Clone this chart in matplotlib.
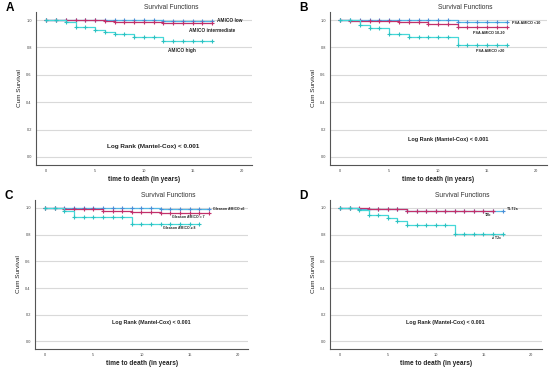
import matplotlib
matplotlib.use('Agg')
import matplotlib.pyplot as plt
import numpy as np

plt.rcParams['font.family'] = ['Liberation Sans', 'DejaVu Sans']

# survival curves: (step times, survival after each step, censor times)
# panel A
a_low_t = [0, 12];          a_low_s = [1.0, 0.995]
a_int_t = [0, 6, 7, 12];    a_int_s = [1.0, 0.99, 0.983, 0.976]
a_high_t = [0, 2, 3, 5, 6, 7, 9, 12]
a_high_s = [1.0, 0.983, 0.951, 0.924, 0.912, 0.898, 0.878, 0.844]
a_cens = list(range(0, 18))

# panel B
b_low_t = [0, 1, 12];              b_low_s = [1.0, 0.997, 0.988]
b_mid_t = [0, 1, 3, 6, 9, 12];     b_mid_s = [1.0, 0.996, 0.99, 0.983, 0.972, 0.95]
b_high_t = [0, 2, 3, 5, 7, 12];    b_high_s = [1.0, 0.965, 0.945, 0.90, 0.875, 0.82]

# panel C
c_low_t = [0, 12];                 c_low_s = [1.0, 0.99]
c_mid_t = [0, 2, 5, 6, 7, 9, 12]
c_mid_s = [1.0, 0.996, 0.99, 0.98, 0.975, 0.97, 0.96]
c_high_t = [0, 2, 3, 9];           c_high_s = [1.0, 0.978, 0.93, 0.88]
c_cens_high = list(range(0, 17))

# panel D
d_low_t = [0, 2, 7];               d_low_s = [1.0, 0.995, 0.98]
d_mid_t = [0, 3, 7];               d_mid_s = [1.0, 0.99, 0.975]
d_high_t = [0, 2, 3, 5, 6, 7, 12]
d_high_s = [1.0, 0.985, 0.945, 0.925, 0.90, 0.873, 0.805]
d_cens_mid = list(range(0, 17))

c_low = '#52b8e6'
c_lowm = '#4a8fd8'
c_int = '#c2306b'
c_high = '#45d8d8'
c_highm = '#2cc2c2'

panels = [
    ('A', [0.0655, 0.553, 0.393, 0.415],
     [(a_low_t, a_low_s, a_cens, c_low, c_lowm),
      (a_int_t, a_int_s, a_cens, c_int, c_int),
      (a_high_t, a_high_s, a_cens, c_high, c_highm)],
     [('AMICO low', 17.5, 1.0), ('AMICO intermediate', 14.6, 0.927), ('AMICO high', 12.5, 0.78)],
     3.4, 4.6, 0.073),
    ('B', [0.600, 0.553, 0.394, 0.415],
     [(b_low_t, b_low_s, a_cens, c_low, c_lowm),
      (b_mid_t, b_mid_s, a_cens, c_int, c_int),
      (b_high_t, b_high_s, a_cens, c_high, c_highm)],
     [('PSA AMICO <10', 17.6, 0.98), ('PSA AMICO 10-20', 13.6, 0.903), ('PSA AMICO >20', 13.9, 0.774)],
     2.7, 4.0, 0.13),
    ('C', [0.0636, 0.054, 0.388, 0.404],
     [(c_low_t, c_low_s, a_cens, c_low, c_lowm),
      (c_mid_t, c_mid_s, a_cens, c_int, c_int),
      (c_high_t, c_high_s, c_cens_high, c_high, c_highm)],
     [('Gleason AMICO \u22646', 17.4, 0.99), ('Gleason AMICO = 7', 13.2, 0.933), ('Gleason AMICO \u2265 8', 12.2, 0.848)],
     2.5, 3.9, 0.14),
    ('D', [0.600, 0.054, 0.385, 0.404],
     [(d_low_t, d_low_s, a_cens, c_low, c_lowm),
      (d_mid_t, d_mid_s, d_cens_mid, c_int, c_int),
      (d_high_t, d_high_s, a_cens, c_high, c_highm)],
     [('T1-T2a', 17.5, 0.99), ('T2b', 15.2, 0.948), ('\u2265 T2c', 15.9, 0.778)],
     2.5, 3.85, 0.14),
]

fig = plt.figure(figsize=(5.5, 3.69), dpi=100)

for letter, pos, curves, labels, lsize, rsize, ry in panels:
    ax = fig.add_axes(pos)
    ax.set_xlim(-1.05, 21.1)
    ax.set_ylim(-0.058, 1.06)
    for y in np.arange(0, 1.01, 0.2):
        ax.axhline(y, color='#d9d9d9', lw=0.8, zorder=0)
    for t, s, cens, col, mcol in curves:
        end = cens[-1]
        tt = list(t) + [end]
        ss = list(s) + [s[-1]]
        ax.step(tt, ss, where='post', color=col, lw=0.9)
        idx = np.searchsorted(t, cens, side='right') - 1
        ax.plot(cens, np.array(s)[idx], ls='none', marker='+', ms=2.5,
                mew=0.8, color=mcol)
    for txt, x, y in labels:
        ax.text(x, y, txt, fontsize=lsize, fontweight='bold', color='#222222',
                va='center', ha='left', clip_on=False)
    ax.text(11.0, ry, 'Log Rank (Mantel-Cox) < 0.001', fontsize=rsize,
            fontweight='bold', color='#222222', ha='center', va='center')
    ax.set_xticks([0, 5, 10, 15, 20])
    ax.set_yticks([0.0, 0.2, 0.4, 0.6, 0.8, 1.0])
    ax.set_yticklabels(['0.0', '0.2', '0.4', '0.6', '0.8', '1.0'])
    ax.tick_params(axis='x', length=0, labelsize=2.8, labelcolor='#444444', pad=3)
    ax.tick_params(axis='y', length=0, labelsize=2.8, labelcolor='#444444', pad=3)
    for side in ['top', 'right']:
        ax.spines[side].set_visible(False)
    for side in ['left', 'bottom']:
        ax.spines[side].set_color('#555555')
        ax.spines[side].set_linewidth(0.8)
    ax.set_xlabel('time to death (in years)', fontsize=4.7, fontweight='bold',
                  color='#222222', labelpad=2)
    ax.set_ylabel('Cum Survival', fontsize=4.6, color='#222222', labelpad=3)
    ax.annotate('Survival Functions', xy=(12.8, 1.095),
                xycoords=('data', 'data'), ha='center', va='center',
                fontsize=4.8, color='#333333', annotation_clip=False)
    ax.annotate(letter, xy=(pos[0] - 0.055, pos[1] + pos[3] + 0.01),
                xycoords='figure fraction', ha='left', va='center',
                fontsize=8.5, fontweight='bold', color='black')

fig.savefig('out.png', dpi=100)
